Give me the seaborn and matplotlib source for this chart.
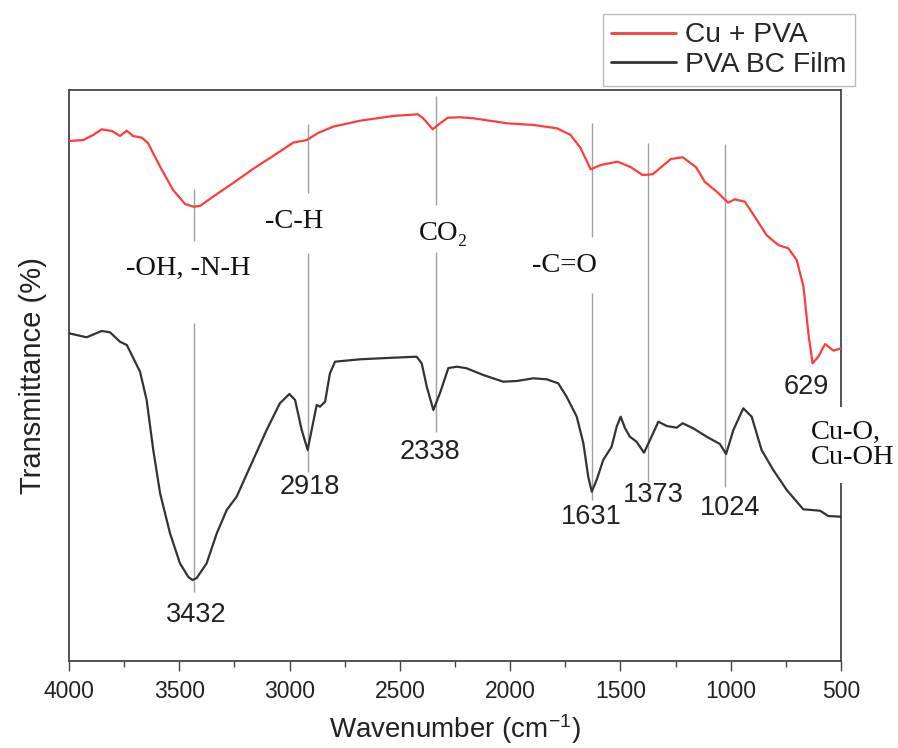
import numpy as np
import pandas as pd
import matplotlib
matplotlib.use("Agg")
import matplotlib.pyplot as plt
import seaborn as sns
from matplotlib.ticker import MultipleLocator

# ---- data (transmittance in arbitrary units) ----
cu_pva_wn = [4000, 3935, 3890, 3852, 3806, 3769, 3738, 3710, 3670, 3642, 3587, 3528, 3474, 3436,
             3406, 3347, 3256, 3166, 3075, 2984, 2922, 2871, 2803, 2681, 2531, 2418, 2395, 2351,
             2318, 2282, 2227, 2166, 2014, 1893, 1788, 1726, 1680, 1635, 1589, 1513, 1452, 1400,
             1354, 1271, 1217, 1157, 1118, 1058, 1012, 982, 936, 891, 838, 785, 739, 701, 670,
             648, 629, 603, 572, 534, 500]
cu_pva_t = [520, 521, 526, 531.7, 530, 525, 530.3, 525, 523.3, 518, 494.3, 471, 457, 454.3,
            455, 464.3, 478, 492, 505, 518.3, 521, 528, 534.3, 540.3, 545, 546.7, 543, 531.7,
            537.7, 543.3, 543.7, 542.7, 537.7, 536, 532.7, 526, 512.7, 491.7, 496, 499.3, 493.7, 486,
            486.7, 502, 503.7, 493.7, 479.3, 468.3, 458.3, 461.7, 459.3, 444.3, 426, 416, 412.7, 401, 374.3,
            327.7, 297.7, 304.3, 317, 310.3, 312.7]

pva_bc_wn = [4000, 3920, 3852, 3814, 3769, 3738, 3708, 3678, 3648, 3618, 3587, 3542, 3497, 3459,
             3440, 3421, 3376, 3330, 3285, 3240, 3179, 3104, 3044, 3001, 2975, 2945, 2918, 2900,
             2877, 2862, 2839, 2817, 2794, 2681, 2530, 2424, 2401, 2378, 2348, 2318, 2280, 2240,
             2197, 2122, 2031, 1970, 1895, 1834, 1782, 1744, 1698, 1668, 1646, 1630, 1608, 1578,
             1540, 1517, 1499, 1479, 1457, 1427, 1393, 1366, 1328, 1290, 1245, 1218, 1170, 1109,
             1049, 1021, 988, 943, 905, 860, 807, 746, 671, 595, 558, 500]
pva_bc_t = [327.7, 323.7, 330, 328.7, 319.3, 316, 302.7, 289.3, 261, 211, 167.7, 127.7, 97.7, 84,
            81, 83, 97.7, 127.7, 151, 164.3, 194.3, 231, 257.7, 267, 261, 231, 211, 231,
            256, 254.3, 259.3, 287.7, 299.3, 301.7, 303.3, 304.3, 297.7, 274.3, 251, 268, 293, 294.3,
            292.7, 286, 279.3, 280, 282.7, 281.7, 277.7, 264.3, 244.3, 217.7, 184.3, 169.3, 181, 201,
            214.3, 234.3, 244.3, 232.7, 224.3, 219.3, 208.3, 221, 239.3, 235, 233.3, 237.7, 232.7, 224.3,
            217, 207, 231, 252.7, 244.3, 211, 191, 171, 151.7, 150.3, 145, 144.3]

series_names = ["Cu + PVA", "PVA BC Film"]
series_colors = ["#ff3b3b", "#333333"]

# annotation guide lines: (wavenumber, [(y_top, y_bottom), ...])
peak_lines = [
    (3432, [(472, 420), (338, 69)]),
    (2918, [(537, 468), (408, 189)]),
    (2338, [(565, 456), (409, 229)]),
    (1631, [(538, 424), (368, 161)]),
    (1373, [(518, 179)]),
    (1024, [(517, 174)]),
]
peak_labels = ["3432", "2918", "2338", "1631", "1373", "1024", "629"]
peak_label_pos = [(3421, 46), (2907, 174), (2363, 209), (1630, 144), (1352, 166), (1003, 153), (656, 274)]
group_labels = ["-OH, -N-H", "-C-H", "CO\u2082", "-C=O"]
group_label_pos = [(3459, 393), (2981, 439), (2300, 428), (1753, 396)]
cu_label = "Cu-O,\nCu-OH"
cu_label_pos = (637, 216)

# ---- build frame ----
df = pd.concat([
    pd.DataFrame({"wn": cu_pva_wn, "t": cu_pva_t, "sample": series_names[0]}),
    pd.DataFrame({"wn": pva_bc_wn, "t": pva_bc_t, "sample": series_names[1]}),
], ignore_index=True)

sns.set_style("white")
plt.rcParams["font.family"] = ["Liberation Sans", "DejaVu Sans"]
plt.rcParams["mathtext.fontset"] = "custom"
plt.rcParams["mathtext.rm"] = "Liberation Sans"
plt.rcParams["mathtext.it"] = "Liberation Sans:italic"

W, H = 898, 748
fig = plt.figure(figsize=(W / 100, H / 100), dpi=100)
ax = fig.add_axes([69 / W, 1 - 661 / H, (841 - 69) / W, (661 - 90) / H])

sns.lineplot(data=df, x="wn", y="t", hue="sample", hue_order=series_names,
             palette=dict(zip(series_names, series_colors)), sort=False,
             estimator=None, linewidth=1.6, ax=ax, zorder=3)

ax.set_xlim(4000, 500)
ax.set_ylim(0, 571)

for wn, segs in peak_lines:
    for y0, y1 in segs:
        ax.vlines(wn, y1, y0, color="#a0a0a0", linewidth=1.0, zorder=2)

num_color = "#222222"
for lab, (x, y) in zip(peak_labels, peak_label_pos):
    ax.text(x, y, lab, fontsize=19.5, ha="center", va="center", color=num_color)

serif = ["Liberation Serif", "DejaVu Serif"]
for lab, (x, y) in zip(group_labels, group_label_pos):
    ax.text(x, y, lab, fontsize=20.5, ha="center", va="center", color="#111111", family=serif)

ax.text(cu_label_pos[0], cu_label_pos[1], cu_label, fontsize=20.5, ha="left", va="center",
        color="#111111", family=serif, linespacing=1.0, clip_on=False, zorder=5,
        bbox=dict(boxstyle="square,pad=0.45", facecolor="white", edgecolor="none"))

# axes styling
for s in ax.spines.values():
    s.set_visible(True)
    s.set_color("#444444")
    s.set_linewidth(1.3)
ax.set_yticks([])
ax.xaxis.set_major_locator(MultipleLocator(500))
ax.xaxis.set_minor_locator(MultipleLocator(250))
ax.tick_params(axis="x", which="major", direction="out", length=7.5, width=1.0,
               color="#444444", labelsize=16.5, labelcolor="#222222", pad=6, bottom=True)
ax.tick_params(axis="x", which="minor", direction="out", length=4, width=1.0,
               color="#444444", bottom=True)
ax.set_xlabel("Wavenumber (cm$^{-1}$)", fontsize=20, labelpad=7, color="#222222")
ax.set_ylabel("Transmittance (%)", fontsize=21, labelpad=16, color="#222222")

leg = ax.legend(loc="upper left", bbox_to_anchor=(603 / W, 1 - 14 / H),
                bbox_transform=fig.transFigure, borderaxespad=0, frameon=True,
                fancybox=False, fontsize=20.3, handlelength=2.3, handletextpad=0.3,
                borderpad=0.3, labelspacing=0.12, title=None)
leg.get_frame().set_edgecolor("#aaaaaa")
leg.get_frame().set_linewidth(1.0)
for line in leg.get_lines():
    line.set_linewidth(2.0)

fig.savefig("out.png", dpi=100)
